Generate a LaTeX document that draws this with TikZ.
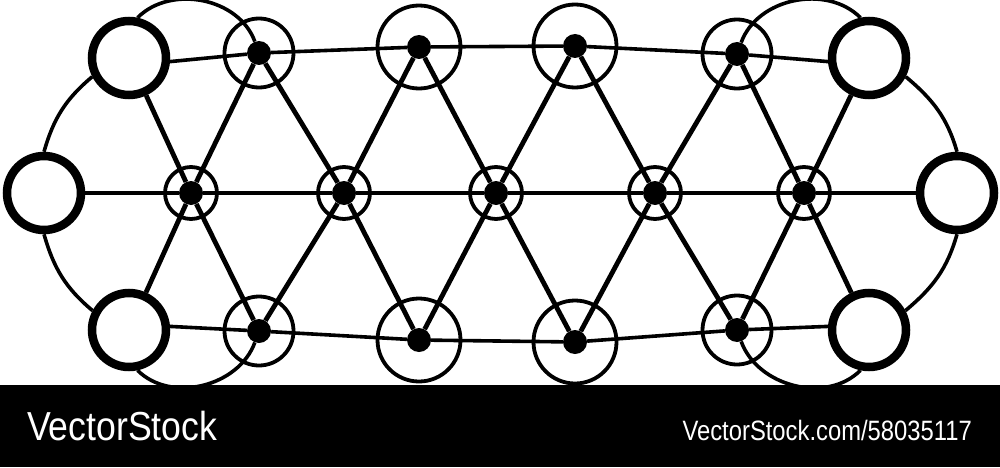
\documentclass[tikz,border=0pt]{standalone}
\usepackage{fontspec}
\setmainfont{Liberation Sans}
\begin{document}
\begin{tikzpicture}[x=1pt,y=1pt,
  big/.style={circle,draw,line width=8.5pt,fill=white,minimum size=74pt,inner sep=0pt},
  dotn/.style={circle,fill=black,minimum size=24pt,inner sep=0pt},
  ringo/.style={circle,draw,line width=3.8pt,minimum size=#1,inner sep=0pt},
  link/.style={line width=4.8pt},
  chain/.style={line width=3.6pt},
  brand/.style={text=white,inner sep=0pt}]
\useasboundingbox (0,0) rectangle (1000,467);
\fill[black] (0,0) rectangle (1000,82);
% big hollow circles
\node[big] (TL) at (129,409) {};
\node[big] (L) at (44,274) {};
\node[big] (BL) at (129,137) {};
\node[big] (TR) at (869,409) {};
\node[big] (R) at (957,274) {};
\node[big] (BR) at (869,137) {};
% rings
\node[ringo=69pt] (rT1) at (259,414) {};
\node[ringo=83pt] (rT2) at (419,420) {};
\node[ringo=83pt] (rT3) at (575,421) {};
\node[ringo=69pt] (rT4) at (737,413) {};
\node[ringo=52pt] (rM1) at (191,274) {};
\node[ringo=52pt] (rM2) at (344,274) {};
\node[ringo=52pt] (rM3) at (496,274) {};
\node[ringo=52pt] (rM4) at (655,274) {};
\node[ringo=52pt] (rM5) at (804,274) {};
\node[ringo=69pt] (rB1) at (259,136) {};
\node[ringo=83pt] (rB2) at (419,127) {};
\node[ringo=83pt] (rB3) at (575,125) {};
\node[ringo=69pt] (rB4) at (737,137) {};
% dots
\node[dotn] (T1) at (259,414) {};
\node[dotn] (T2) at (419,420) {};
\node[dotn] (T3) at (575,421) {};
\node[dotn] (T4) at (737,413) {};
\node[dotn] (M1) at (191,274) {};
\node[dotn] (M2) at (344,274) {};
\node[dotn] (M3) at (496,274) {};
\node[dotn] (M4) at (655,274) {};
\node[dotn] (M5) at (804,274) {};
\node[dotn] (B1) at (259,136) {};
\node[dotn] (B2) at (419,127) {};
\node[dotn] (B3) at (575,125) {};
\node[dotn] (B4) at (737,137) {};
% chains
\draw[chain] (TL.-5) -- (T1) -- (T2) -- (T3) -- (T4) -- (TR.185);
\draw[chain] (BL.5) -- (B1) -- (B2) -- (B3) -- (B4) -- (BR.175);
\draw[link] (L) -- (M1) -- (M2) -- (M3) -- (M4) -- (M5) -- (R);
% diagonals top
\draw[link] (TL) -- (M1);
\draw[link] (M1) -- (T1) -- (M2) -- (T2) -- (M3) -- (T3) -- (M4) -- (T4) -- (M5);
\draw[link] (M5) -- (TR);
% diagonals bottom
\draw[link] (BL) -- (M1);
\draw[link] (M1) -- (B1) -- (M2) -- (B2) -- (M3) -- (B3) -- (M4) -- (B4) -- (M5);
\draw[link] (M5) -- (BR);
% outer arcs
\draw[chain] (TL.207) to[out=220,in=74] (L.90);
\draw[chain] (L.270) to[out=286,in=140] (BL.152);
\draw[chain] (TL.78) to[out=45,in=110] (T1);
\draw[chain] (BL.282) to[out=315,in=250] (B1);
\draw[chain] (TR.102) to[out=135,in=70] (T4);
\draw[chain] (TR.-27) to[out=-40,in=106] (R.90);
\draw[chain] (R.270) to[out=254,in=40] (BR.28);
\draw[chain] (BR.258) to[out=225,in=290] (B4);
% footer text
\node[brand,anchor=base west,xscale=0.88] (logo) at (27,27) {\fontsize{40.5}{48}\selectfont VectorStock};
\node[brand,anchor=base east,xscale=0.85] (url) at (972,27) {\fontsize{28}{34}\selectfont VectorStock.com/58035117};
\end{tikzpicture}
\end{document}
